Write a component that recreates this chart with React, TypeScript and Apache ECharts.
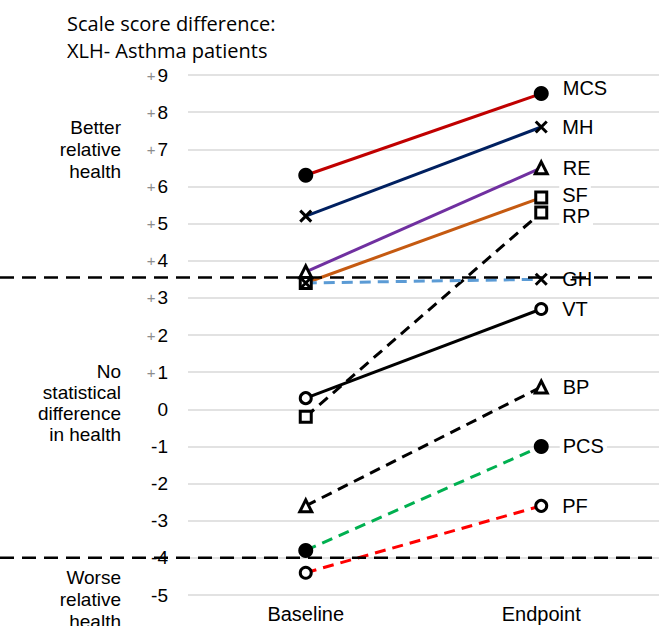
import React, { useEffect, useRef } from 'react';
import * as echarts from 'echarts';

const categories = ['Baseline', 'Endpoint'];
const seriesNames = ['MCS', 'MH', 'RE', 'SF', 'RP', 'GH', 'VT', 'BP', 'PCS', 'PF'];
const baselineValues = [6.3, 5.2, 3.7, 3.4, -0.2, 3.4, 0.3, -2.6, -3.8, -4.4];
const endpointValues = [8.5, 7.6, 6.5, 5.7, 5.3, 3.5, 2.7, 0.6, -1.0, -2.6];
const thresholdValues = [3.55, -4];
const yMin = -5;
const yMax = 9;

const lineColors = ['#C00000', '#002060', '#7030A0', '#C55A11', '#000000', '#5B9BD5', '#000000', '#000000', '#00B050', '#FF0000'];
const dashed = [false, false, false, false, true, true, false, true, true, true];
const markerKinds = ['dot', 'cross', 'tri', 'sq', 'sq', 'cross', 'ring', 'tri', 'dot', 'ring'];
const labelOffsets = [[0, -6], [0, 0], [0, 0], [0, -3], [0, 4], [0, 0], [0, 0], [0, 0], [0, 0], [0, 0]];

const FONT = "'Liberation Sans', Arial, sans-serif";

function markerStyle(kind: string) {
  if (kind === 'dot') return { symbol: 'circle', symbolSize: 15, itemStyle: { color: '#000', borderWidth: 0 } };
  if (kind === 'ring') return { symbol: 'circle', symbolSize: 11, itemStyle: { color: '#fff', borderColor: '#000', borderWidth: 3 } };
  if (kind === 'tri') return { symbol: 'triangle', symbolSize: 12, itemStyle: { color: '#fff', borderColor: '#000', borderWidth: 3 } };
  if (kind === 'sq') return { symbol: 'rect', symbolSize: 11, itemStyle: { color: '#fff', borderColor: '#000', borderWidth: 3 } };
  return { symbol: 'path://M0,0L10,10M10,0L0,10', symbolSize: 11, itemStyle: { color: '#000', borderColor: '#000', borderWidth: 3 } };
}

export default function App() {
  const ref = useRef<HTMLDivElement>(null);
  useEffect(() => {
    if (!ref.current) return;
    const chart = echarts.init(ref.current, null, { renderer: 'svg' });
    const series = seriesNames.map((name, i) => {
      const m = markerStyle(markerKinds[i]);
      return {
        name,
        type: 'line',
        data: [
          baselineValues[i],
          {
            value: endpointValues[i],
            label: {
              show: true,
              position: 'right',
              distance: 11,
              offset: labelOffsets[i],
              formatter: name,
              color: '#000',
              fontSize: 20,
              lineHeight: 19,
              fontFamily: FONT,
              backgroundColor: '#fff',
              padding: [0, 3, 0, 3],
            },
          },
        ],
        symbol: m.symbol,
        symbolSize: m.symbolSize,
        itemStyle: m.itemStyle,
        lineStyle: { color: lineColors[i], width: 3, type: dashed[i] ? [11, 7] : 'solid' },
        emphasis: { disabled: true },
        z: 3,
      };
    });
    chart.setOption({
      animation: false,
      title: {
        text: 'Scale score difference:\nXLH- Asthma patients',
        left: 62,
        top: 5,
        textStyle: { fontFamily: "'Open Sans', sans-serif", fontSize: 20, fontWeight: 'normal', color: '#000', lineHeight: 27 },
      },
      grid: { left: 188, right: 10, top: 75, bottom: 31 },
      xAxis: {
        type: 'category',
        data: categories,
        axisLine: { show: false },
        axisTick: { show: false },
        axisLabel: { color: '#000', fontSize: 20, fontFamily: FONT, margin: 9 },
      },
      yAxis: {
        type: 'value',
        min: yMin,
        max: yMax,
        interval: 1,
        axisLine: { show: false },
        axisTick: { show: false },
        splitLine: { lineStyle: { color: '#D9D9D9', width: 1.5 } },
        axisLabel: {
          margin: 20,
          formatter: (v: number) => (v > 0 ? `{p|+}{n|${v}}` : `{n|${v}}`),
          rich: {
            p: { color: '#8c8c8c', fontSize: 15, fontFamily: FONT, padding: [0, 2, 0, 0] },
            n: { color: '#000', fontSize: 19, fontFamily: FONT },
          },
        },
      },
      series,
    });
    const thresholdYs = thresholdValues.map((v) => chart.convertToPixel({ yAxisIndex: 0 }, v) as number);
    const sideText = (text: string, y: number, lh: number) => ({
      type: 'text',
      x: 121,
      y,
      z: 10,
      style: {
        text,
        x: 0,
        y: 0,
        align: 'right',
        verticalAlign: 'middle',
        textAlign: 'right',
        textVerticalAlign: 'middle',
        fill: '#000',
        fontSize: 19,
        fontFamily: FONT,
        lineHeight: lh,
      },
    });
    chart.setOption({
      graphic: [
        ...thresholdYs.map((y) => ({
          type: 'line',
          z: 20,
          shape: { x1: 0, y1: y, x2: 660, y2: y },
          style: { stroke: '#000', lineWidth: 2.5, lineDash: [14, 8] },
        })),
        sideText('Better\nrelative\nhealth', 149, 22),
        sideText('No\nstatistical\ndifference\nin health', 403, 21),
        sideText('Worse\nrelative\nhealth', 599, 22),
      ],
    });
    return () => chart.dispose();
  }, []);
  return <div ref={ref} style={{ width: 669, height: 626, position: 'absolute', left: 0, top: 0 }} />;
}
